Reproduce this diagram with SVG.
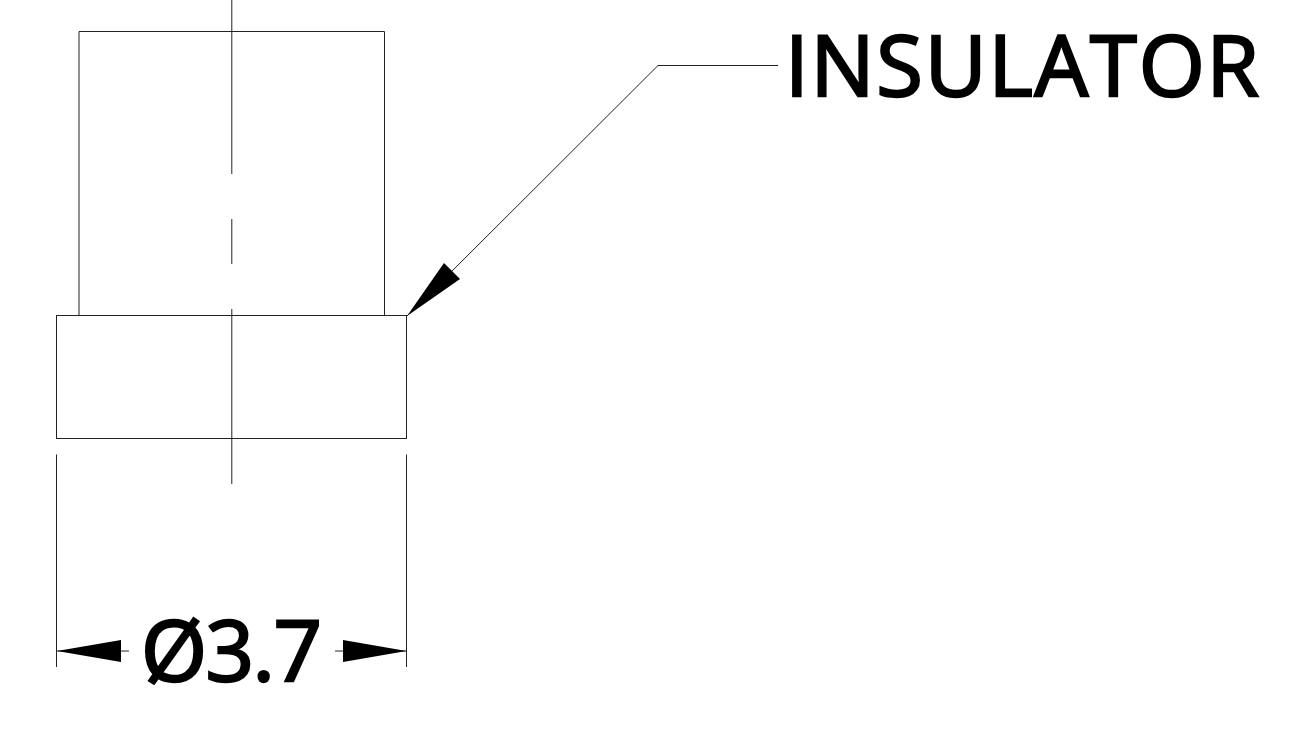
<svg xmlns="http://www.w3.org/2000/svg" width="1295" height="754" viewBox="0 0 1295 754">
<style>
.l{fill:none;stroke:#222;stroke-width:1}
.a{fill:#000;stroke:none}
.t{font-family:"Open Sans","Noto Sans","DejaVu Sans",sans-serif;fill:#000;stroke:#000;stroke-width:2.4;font-size:85px}
</style>
<rect width="1295" height="754" fill="#fff"/>
<g id="body">
<path class="l" d="M79 316V31.500H384.500V316"/>
<rect class="l" x="56.500" y="315.500" width="350" height="123"/>
</g>
<g id="centerline">
<path class="l" d="M231.800 0V174M231.800 219V264M231.800 309V484"/>
</g>
<g id="connectors">
<path class="l" d="M778 65.500H658L407 316"/>
<polygon class="a" points="407,316 444,263 460,279"/>
<path class="l" d="M56.500 454.500V667M406.500 454.500V667"/>
<path class="l" d="M57 651H129M335 651H406"/>
<polygon class="a" points="57,651 121,640 121,662"/>
<polygon class="a" points="406.500,651 343,640 343,662"/>
</g>
<g id="insulator-label"><text class="t" x="785" y="96" textLength="474" lengthAdjust="spacing">INSULATOR</text></g>
<g id="dimension-label"><text class="t" x="141" y="681" textLength="181" lengthAdjust="spacing">Ø3.7</text></g>
</svg>
